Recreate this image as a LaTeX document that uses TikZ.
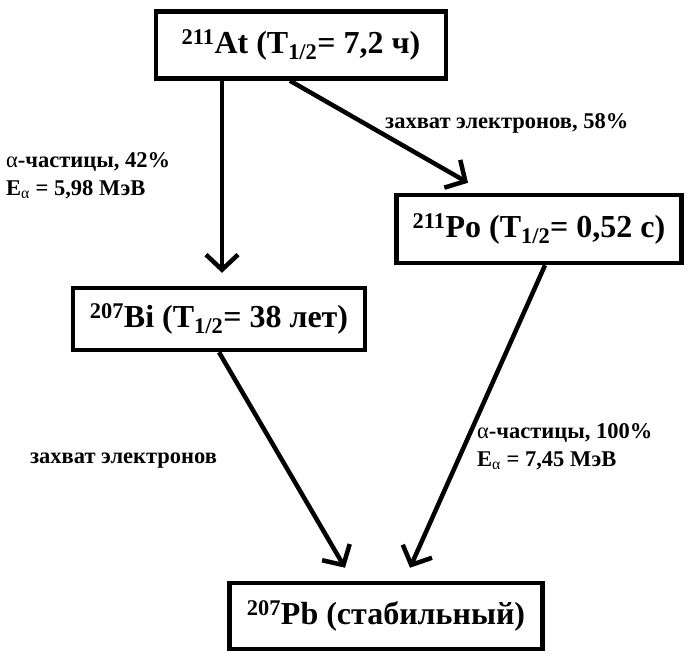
\documentclass[tikz,border=0pt]{standalone}
\usepackage{fontspec}
\setmainfont{Liberation Serif}
\usetikzlibrary{arrows.meta}

\tikzset{
    nuclide/.style={draw, line width=4.5pt, inner sep=0pt,
        font=\fontsize{32}{36}\selectfont\bfseries},
    branch/.style={inner sep=0pt, align=left,
        font=\fontsize{22.5}{28}\selectfont\bfseries},
    decay/.style={line width=4.5pt,
        -{Straight Barb[length=15pt,width=32pt]}}
}
\newcommand{\iso}[2]{\textsuperscript{#1}#2}
\newcommand{\halflife}{T\textsubscript{1/2}}
\newcommand{\alp}{{\mdseries α}}

\begin{document}
\begin{tikzpicture}[x=1pt,y=-1pt]

    \useasboundingbox (0,0) rectangle (695,653);

    % nuclides
    \node[nuclide,
        minimum width=290pt,
        minimum height=67pt
    ] (at) at (301,45) {\iso{211}{At} (\halflife= 7,2 ч)};
    \node[nuclide,
        minimum width=285pt,
        minimum height=68pt
    ] (po) at (539,229) {\iso{211}{Po} (\halflife= 0,52 с)};
    \node[nuclide,
        minimum width=292pt,
        minimum height=62pt
    ] (bi) at (219,319) {\iso{207}{Bi} (\halflife= 38 лет)};
    \node[nuclide,
        minimum width=313pt,
        minimum height=66pt
    ] (pb) at (386,616) {\iso{207}{Pb} (стабильный)};

    % branches
    \draw[decay] ([xshift=-79pt]at.south) -- ([xshift=3pt,yshift=13pt]bi.north);
    \draw[decay] ([xshift=-11pt]at.south) -- ([xshift=-71pt,yshift=10pt]po.north);
    \draw[decay] (bi.south) -- ([xshift=-41pt,yshift=13pt]pb.north);
    \draw[decay] ([xshift=6pt]po.south) -- ([xshift=24pt,yshift=13pt]pb.north);

    % labels
    \node[branch, anchor=west] (alphaAt) at (6,176)
        {\alp-частицы, 42\%\\E\textsubscript{\alp} = 5,98 МэВ};
    \node[branch, anchor=base west] (ecAt) at (385,128)
        {захват электронов, 58\%};
    \node[branch, anchor=base west] (ecBi) at (30,463)
        {захват электронов};
    \node[branch, anchor=west] (alphaPo) at (477,447)
        {\alp-частицы, 100\%\\E\textsubscript{\alp} = 7,45 МэВ};

\end{tikzpicture}
\end{document}
